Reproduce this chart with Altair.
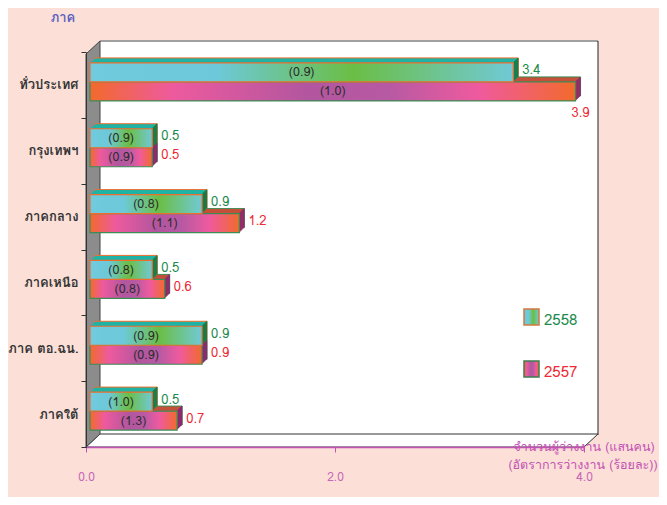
import altair as alt
import pandas as pd

# ---------------- data ----------------
regions = ["ทั่วประเทศ", "กรุงเทพฯ", "ภาคกลาง", "ภาคเหนือ", "ภาค ตอ.ฉน.", "ภาคใต้"]
years = ["2558", "2557"]
unemployed_2558 = [3.4, 0.5, 0.9, 0.5, 0.9, 0.5]
rate_2558 = [0.9, 0.9, 0.8, 0.8, 0.9, 1.0]
unemployed_2557 = [3.9, 0.5, 1.2, 0.6, 0.9, 0.7]
rate_2557 = [1.0, 0.9, 1.1, 0.8, 0.9, 1.3]
x_ticks = [0.0, 2.0, 4.0]
x_title_lines = ["จำนวนผู้ว่างงาน (แสนคน)", "(อัตราการว่างงาน (ร้อยละ))"]
y_title = "ภาค"

rows = []
for yr, vals, rates in [("2558", unemployed_2558, rate_2558), ("2557", unemployed_2557, rate_2557)]:
    for r, v, rt in zip(regions, vals, rates):
        rows.append({"region": r, "year": yr, "value": v, "rate": rt})
df = pd.DataFrame(rows)
one = pd.DataFrame({"a": [0]})

# ---------------- style ----------------
W, H = 498, 395
FONT = "Tahoma, Loma, Garuda, 'Noto Sans Thai', 'DejaVu Sans', sans-serif"
BG = "#FCE0D8"
MAG = "#C452B4"
MAG_LBL = "#C868B8"
GREEN_TXT = "#1E8B4E"
RED_TXT = "#EE2B36"
BX, BY, DEPTH, BAR_H = 4, -3, 5, 19

GRAD58 = {"gradient": "linear", "x1": 0, "x2": 1, "y1": 0, "y2": 0,
          "stops": [{"offset": 0, "color": "#6FCBDD"},
                    {"offset": 0.3, "color": "#6DC9D9"},
                    {"offset": 0.62, "color": "#6BBE45"},
                    {"offset": 1, "color": "#70C9D6"}]}
GRAD57 = {"gradient": "linear", "x1": 0, "x2": 1, "y1": 0, "y2": 0,
          "stops": [{"offset": 0, "color": "#F26A2B"},
                    {"offset": 0.17, "color": "#EE5A9E"},
                    {"offset": 0.45, "color": "#B2569F"},
                    {"offset": 0.62, "color": "#B85AA3"},
                    {"offset": 0.8, "color": "#EF5A9E"},
                    {"offset": 1, "color": "#F26A2B"}]}

# per-series style: (year, vertical shift inside the band, front gradient, front stroke,
#                    top-face colour, side-face colour, value-label colour)
series = [
    ("2557", +BAR_H / 2, GRAD57, "#3C8C55", "#C4503A", "#8A2A70", RED_TXT),
    ("2558", -BAR_H / 2, GRAD58, "#EE6E2E", "#1FB3A4", "#1B7A45", GREEN_TXT),
]


def X(field):
    return alt.X(f"{field}:Q",
                 scale=alt.Scale(domain=[0, 4], nice=False, zero=True),
                 axis=alt.Axis(values=x_ticks, format=".1f", title=None, grid=False,
                               domainColor=MAG, domainWidth=1.5, tickColor=MAG, tickSize=5,
                               labelColor=MAG_LBL, labelFontSize=12, labelPadding=19,
                               labelFlush=False, labelFont=FONT, zindex=1))


Y = alt.Y("region:N", sort=regions,
          scale=alt.Scale(domain=regions, paddingInner=0, paddingOuter=0),
          axis=alt.Axis(title=None, tickBand="extent", tickSize=5, tickColor="#333333",
                        domainColor="#333333", labelColor="#333333", labelFontSize=13,
                        labelFontWeight="bold", labelPadding=3, labelFont=FONT,
                        grid=False, zindex=1))

base = alt.Chart(df)


def yr_data(yr):
    return base.transform_filter(alt.datum.year == yr)


def shape(path, fill, stroke=None, sw=1.0):
    kw = dict(shape=path, size=4, filled=True, fill=fill, opacity=1)
    if stroke:
        kw.update(stroke=stroke, strokeWidth=sw)
    return alt.Chart(one).mark_point(**kw).encode(x=alt.value(0), y=alt.value(0))


layers = []
# ---------------- 3D frame ----------------
layers.append(shape("M14,-11 L512,-11 L512,383 L14,383 Z", "#FFFFFF"))
layers.append(alt.Chart(one).mark_rule(color="#A0A0A0", strokeWidth=2).encode(
    x=alt.value(14), x2=alt.value(512), y=alt.value(-11)))
layers.append(alt.Chart(one).mark_rule(color="#222222", strokeWidth=1).encode(
    x=alt.value(512), y=alt.value(-11), y2=alt.value(383)))
layers.append(shape("M0,395 L14,382 L512,382 L498,395 Z", "#FFFFFF", "#333333", 1))
layers.append(shape("M0,2 L14,-11 L14,382 L0,395 Z", "#8C8C8C", "#444444", 1))

# ---------------- bars: top faces ----------------
for yr, sh, grad, stc, topc, sidec, txtc in series:
    for k in range(DEPTH, 0, -1):
        kw = dict(fill=topc, xOffset=BX + k, yOffset=BY + sh - k, height=BAR_H, opacity=1)
        if k == DEPTH:
            kw.update(stroke=stc, strokeWidth=1)
        layers.append(yr_data(yr).mark_bar(**kw).encode(x=X("value"), y=Y))

# ---------------- bars: side faces ----------------
for yr, sh, grad, stc, topc, sidec, txtc in series:
    for k in range(1, DEPTH + 1):
        layers.append(yr_data(yr).mark_tick(color=sidec, thickness=1.3, size=BAR_H, opacity=1,
                                            xOffset=BX + k - 0.5, yOffset=BY + sh - k)
                      .encode(x=X("value"), y=Y))

# ---------------- bars: front faces ----------------
for yr, sh, grad, stc, topc, sidec, txtc in series:
    layers.append(yr_data(yr).mark_bar(fill=grad, stroke=stc, strokeWidth=1.2, height=BAR_H,
                                       xOffset=BX, yOffset=BY + sh)
                  .encode(x=X("value"), y=Y))

# ---------------- labels ----------------
for yr, sh, grad, stc, topc, sidec, txtc in series:
    layers.append(yr_data(yr).transform_calculate(
        mid="datum.value / 2", rlabel="'(' + format(datum.rate, '.1f') + ')'")
        .mark_text(font=FONT, fontSize=12.5, color="#2E2E2E", xOffset=BX, yOffset=BY + sh)
        .encode(x=X("mid"), y=Y, text="rlabel:N"))
    # value label to the right of the bar; a label that would run past the frame goes below
    layers.append(yr_data(yr).transform_filter("datum.value <= 3.5")
                  .mark_text(font=FONT, fontSize=13, align="left", dx=9, color=txtc,
                             xOffset=BX, yOffset=BY + sh - 2)
                  .encode(x=X("value"), y=Y, text=alt.Text("value:Q", format=".1f")))
    layers.append(yr_data(yr).transform_filter("datum.value > 3.5")
                  .mark_text(font=FONT, fontSize=13,
                             align="center" if yr == "2557" else "left",
                             dx=5 if yr == "2557" else 9, color=txtc,
                             xOffset=BX, yOffset=BY + sh + (22 if yr == "2557" else -2))
                  .encode(x=X("value"), y=Y, text=alt.Text("value:Q", format=".1f")))

# ---------------- legend ----------------
layers.append(alt.Chart(one).mark_rect(fill=GRAD58, stroke="#D07A40", strokeWidth=1.5).encode(
    x=alt.value(438), x2=alt.value(453), y=alt.value(257), y2=alt.value(273)))
layers.append(alt.Chart(one).mark_text(text=years[0], font=FONT, fontSize=15, align="left",
                                       baseline="middle", color=GREEN_TXT)
              .encode(x=alt.value(458), y=alt.value(268)))
layers.append(alt.Chart(one).mark_rect(fill=GRAD57, stroke="#3C7C50", strokeWidth=1.5).encode(
    x=alt.value(438), x2=alt.value(453), y=alt.value(309), y2=alt.value(325)))
layers.append(alt.Chart(one).mark_text(text=years[1], font=FONT, fontSize=15, align="left",
                                       baseline="middle", color=RED_TXT)
              .encode(x=alt.value(458), y=alt.value(320)))

# ---------------- titles ----------------
layers.append(alt.Chart(one).mark_text(text=x_title_lines[0], font=FONT, fontSize=12.5,
                                       align="center", baseline="middle", color=MAG)
              .encode(x=alt.value(498), y=alt.value(395)))
layers.append(alt.Chart(one).mark_text(text=x_title_lines[1], font=FONT, fontSize=12.5,
                                       align="center", baseline="middle", color=MAG)
              .encode(x=alt.value(497), y=alt.value(413)))
layers.append(alt.Chart(one).mark_text(text=y_title, font=FONT, fontSize=13, fontWeight="bold",
                                       align="center", baseline="middle", color="#5A5FC0")
              .encode(x=alt.value(-23), y=alt.value(-34)))

chart = (alt.layer(*layers)
         .properties(width=W, height=H,
                     autosize=alt.AutoSizeParams(type="none"),
                     padding={"left": 78, "top": 44, "right": 75, "bottom": 50})
         .configure(background=BG)
         .configure_view(stroke=None))

chart.save("out.html", embed_options={"renderer": "svg", "actions": False})
